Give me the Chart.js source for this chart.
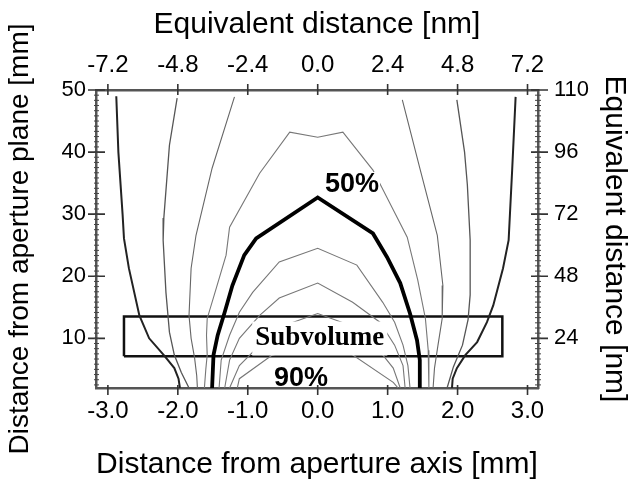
<!DOCTYPE html>
<html>
<head>
<meta charset="utf-8">
<script src="https://cdn.jsdelivr.net/npm/chart.js@4.4.1/dist/chart.umd.min.js"></script>
<style>
  html, body { margin: 0; padding: 0; background: #fff; }
  canvas { display: block; }
</style>
</head>
<body>
<canvas id="c" width="630" height="489"></canvas>
<script>
// ---- axes ----
const xMin = -3.17, xMax = 3.15, yMin = 2, yMax = 50;
const xTicks = [-3, -2, -1, 0, 1, 2, 3];
const topTickLabels = ['-7.2', '-4.8', '-2.4', '0.0', '2.4', '4.8', '7.2'];
const yTicks = [10, 20, 30, 40, 50];
const rightTickLabels = ['24', '48', '72', '96', '110'];
const yMinorStep = 10 / 12;

// ---- contour lines [x mm, y mm] ----
const outerLeft = [[-2.88,49],[-2.85,40],[-2.79,30],[-2.77,26.1],[-2.70,21.3],[-2.55,13.7],[-2.41,10.0],[-2.20,7.3],[-2.05,5.2],[-1.99,3.5],[-1.97,2]];
const outerRight = [[2.83,48.9],[2.78,37],[2.73,25.8],[2.65,21.3],[2.51,15.3],[2.42,12.6],[2.28,9.4],[2.11,7.3],[1.99,5.2],[1.93,3.5],[1.92,2]];
const secondLeft = [[-2.01,48.7],[-2.12,41.1],[-2.20,29.4],[-2.21,25.8],[-2.17,17.4],[-2.12,11.0],[-2.05,7.3],[-1.95,4.5],[-1.84,2]];
const secondRight = [[1.99,48.4],[2.10,40],[2.14,34.7],[2.18,25.8],[2.18,17],[2.15,13],[2.07,8.9],[1.94,5.4],[1.85,2]];
const thirdLeft = [[-1.19,48.9],[-1.51,37.4],[-1.74,26.6],[-1.81,21.3],[-1.84,13.7],[-1.81,10.0],[-1.76,6.8],[-1.73,4.0],[-1.72,2]];
const thirdRight = [[1.21,48.4],[1.46,37.4],[1.71,26.6],[1.79,18.5],[1.78,13.2],[1.72,8.9],[1.67,5.2],[1.65,2]];
const fourthArch = [[-1.62,2],[-1.60,5],[-1.58,7.3],[-1.59,10.5],[-1.58,13.2],[-1.45,18.1],[-1.31,23.4],[-1.26,27.9],[-0.83,36.6],[-0.40,43.2],[0,42.4],[0.36,43.2],[0.79,37.1],[1.28,26.3],[1.43,19.4],[1.54,13.2],[1.58,8.1],[1.59,2]];
const level50 = [[-1.51,2],[-1.49,7.3],[-1.43,10.5],[-1.33,14.2],[-1.22,18.5],[-1.05,23.4],[-0.88,26.1],[0,32.7],[0.79,26.9],[0.99,23.1],[1.18,18.9],[1.32,14.0],[1.42,9.7],[1.46,6.5],[1.46,2]];
const level60 = [[-1.41,2],[-1.38,6.5],[-1.26,10.5],[-1.12,14.2],[-0.93,17.4],[-0.55,22.3],[0,24.5],[0.56,21.8],[0.93,15.8],[1.10,12.6],[1.22,8.9],[1.29,5.6],[1.32,2]];
const level70 = [[-1.33,2],[-1.26,6.5],[-1.12,10.0],[-0.83,13.7],[-0.55,16.5],[0,18.9],[0.50,15.8],[0.89,12.6],[1.10,8.9],[1.22,5.6],[1.25,2]];
const level80 = [[-1.26,2],[-1.12,5.6],[-0.83,8.9],[-0.47,12.1],[0,14.0],[0.46,12.1],[0.82,8.9],[1.08,5.2],[1.18,2]];
const level90 = [[-1.15,2],[-1.12,3.5],[-0.65,7.3],[0.03,9.4],[0.36,8.4],[1.08,2.9],[1.15,2]];

// ---- subvolume box (mm) ----
const subvolumeX = [-2.77, 2.64];
const subvolumeY = [7.1, 13.5];

// ---- text labels ----
const labelTexts = ['Subvolume', '50%', '90%'];
const labelX = [0.03, 0.49, -0.24];
const labelY = [9.97, 34.7, 3.6];

// ---------------------------------------------------------------
const FONT = "'Liberation Sans', Arial, Helvetica, sans-serif";
Chart.defaults.font.family = FONT;
Chart.defaults.color = '#000';

const toPts = arr => arr.map(([x, y]) => ({x, y}));
const line = (arr, color, width) => ({
  data: toPts(arr), showLine: true, borderColor: color, borderWidth: width,
  pointRadius: 0, fill: false, tension: 0, xAxisID: 'x', yAxisID: 'y'
});
const boxPts = [[subvolumeX[0], subvolumeY[0]], [subvolumeX[1], subvolumeY[0]], [subvolumeX[1], subvolumeY[1]], [subvolumeX[0], subvolumeY[1]], [subvolumeX[0], subvolumeY[0]]];

const datasets = [
  line(outerLeft, '#222', 2),
  line(outerRight, '#222', 2),
  line(secondLeft, '#555', 1.3),
  line(secondRight, '#555', 1.3),
  line(thirdLeft, '#666', 1.1),
  line(thirdRight, '#666', 1.1),
  line(fourthArch, '#777', 1.1),
  line(level60, '#777', 1.1),
  line(level70, '#777', 1.1),
  line(level80, '#777', 1.1),
  line(level90, '#777', 1.1),
  line(level50, '#000', 3.8),
  line(boxPts, '#111', 2.5)
];

const labelStyle = [
  {font: "bold 27px 'Liberation Serif', 'Times New Roman', serif", bg: true, padX: 3, h: 34},
  {font: "bold 27px " + FONT, bg: true, padX: 1, h: 26},
  {font: "bold 27px " + FONT, bg: false, padX: 0, h: 0}
];

const overlay = {
  id: 'overlay',
  afterDatasetsDraw(chart) {
    const {ctx, chartArea: ca, scales} = chart;
    const sx = scales.x, sy = scales.y;
    ctx.save();
    ctx.beginPath();
    ctx.rect(ca.left, ca.top, ca.right - ca.left, ca.bottom - ca.top);
    ctx.clip();
    labelTexts.forEach((t, i) => {
      const st = labelStyle[i];
      const px = sx.getPixelForValue(labelX[i]);
      const py = sy.getPixelForValue(labelY[i]);
      ctx.font = st.font;
      const w = ctx.measureText(t).width;
      if (st.bg) {
        ctx.fillStyle = '#fff';
        ctx.fillRect(px - w / 2 - st.padX, py - st.h / 2, w + 2 * st.padX, st.h);
      }
      ctx.fillStyle = '#000';
      ctx.textAlign = 'center';
      ctx.textBaseline = 'middle';
      ctx.fillText(t, px, py);
    });
    ctx.restore();
  },
  afterDraw(chart) {
    const {ctx, chartArea: ca, scales} = chart;
    const sx = scales.x, sy = scales.y;
    ctx.save();
    ctx.strokeStyle = '#333';
    ctx.lineWidth = 1.6;
    ctx.beginPath();
    xTicks.forEach(v => {
      const p = sx.getPixelForValue(v);
      ctx.moveTo(p, ca.bottom - 3); ctx.lineTo(p, ca.bottom + 7);
      ctx.moveTo(p, ca.top - 6); ctx.lineTo(p, ca.top + 5);
    });
    yTicks.forEach(v => {
      const p = sy.getPixelForValue(v);
      ctx.moveTo(ca.left - 8, p); ctx.lineTo(ca.left + 9, p);
      ctx.moveTo(ca.right - 7, p); ctx.lineTo(ca.right + 10, p);
    });
    ctx.stroke();
    ctx.lineWidth = 1;
    ctx.strokeStyle = '#444';
    ctx.beginPath();
    for (let v = 10 - yMinorStep * Math.floor((10 - yMin) / yMinorStep); v < yMax; v += yMinorStep) {
      const p = sy.getPixelForValue(v);
      ctx.moveTo(ca.left - 2, p); ctx.lineTo(ca.left + 3, p);
      ctx.moveTo(ca.right - 3, p); ctx.lineTo(ca.right + 3, p);
    }
    ctx.stroke();
    ctx.restore();
  }
};

const setTicks = vals => s => { s.ticks = vals.map(v => ({value: v})); };
const tickFont = {size: 24, family: FONT};
const titleFont = {size: 30, family: FONT};
const border = {display: true, color: '#555', width: 2.5};

new Chart(document.getElementById('c'), {
  type: 'scatter',
  data: {datasets},
  options: {
    responsive: false,
    devicePixelRatio: 1,
    animation: false,
    layout: {padding: 0},
    plugins: {legend: {display: false}, tooltip: {enabled: false}},
    scales: {
      x: {
        type: 'linear', position: 'bottom', min: xMin, max: xMax,
        afterBuildTicks: setTicks(xTicks),
        afterFit: s => { s.height = 101; },
        grid: {display: false, drawTicks: false},
        border,
        ticks: {autoSkip: false, maxRotation: 0, padding: 9, font: tickFont, callback: v => Number(v).toFixed(1)},
        title: {display: true, text: 'Distance from aperture axis [mm]', font: titleFont, padding: {top: 0, bottom: 6}}
      },
      x2: {
        type: 'linear', position: 'top', min: xMin, max: xMax,
        afterBuildTicks: setTicks(xTicks),
        afterFit: s => { s.height = 90; },
        grid: {display: false, drawTicks: false},
        border,
        ticks: {autoSkip: false, maxRotation: 0, padding: 10, font: tickFont, callback: (v, i) => topTickLabels[i]},
        title: {display: true, text: 'Equivalent distance [nm]', font: titleFont, padding: {top: 7, bottom: 0}}
      },
      y: {
        type: 'linear', position: 'left', min: yMin, max: yMax,
        afterBuildTicks: setTicks(yTicks),
        afterFit: s => { s.width = 96; },
        grid: {display: false, drawTicks: false},
        border,
        ticks: {autoSkip: false, padding: 10, font: {size: 22, family: FONT}, callback: v => String(v)},
        title: {display: true, text: 'Distance from aperture plane [mm]', font: {size: 28, family: FONT}, padding: {top: 3, bottom: 0}}
      },
      y2: {
        type: 'linear', position: 'right', min: yMin, max: yMax,
        afterBuildTicks: setTicks(yTicks),
        afterFit: s => { s.width = 92; },
        grid: {display: false, drawTicks: false},
        border,
        ticks: {autoSkip: false, padding: 16, font: {size: 22, family: FONT}, callback: (v, i) => rightTickLabels[i]},
        title: {display: true, text: 'Equivalent distance [nm]', font: {size: 30, family: FONT, lineHeight: 1}, padding: {top: 1, bottom: 0}}
      }
    }
  },
  plugins: [overlay]
});
</script>
</body>
</html>
